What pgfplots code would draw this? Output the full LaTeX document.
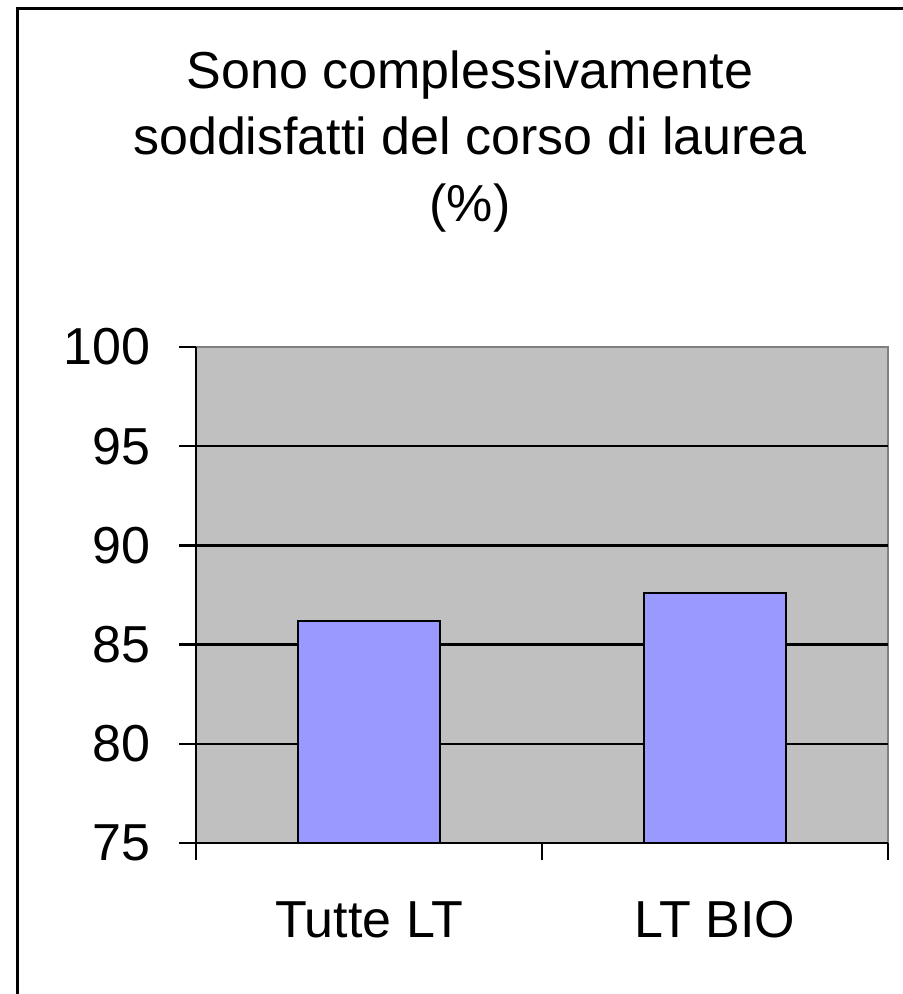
\documentclass[border=0pt]{standalone}
\usepackage{fontspec}
\setmainfont{Liberation Sans}
\usepackage{pgfplots}
\pgfplotsset{compat=1.18}
\definecolor{plotbg}{HTML}{C0C0C0}
\definecolor{barfill}{HTML}{9999FF}
\definecolor{edgegray}{HTML}{808080}
\begin{document}
\begin{tikzpicture}
\useasboundingbox (0pt,0pt) rectangle (451pt,-497pt);
\draw[line width=1.6pt] (8.6pt,-500pt) -- (8.6pt,-4.2pt) -- (455pt,-4.2pt);
\node[anchor=base,font=\fontsize{26pt}{31pt}\selectfont] at (235pt,-44.5pt) {Sono complessivamente};
\node[anchor=base,font=\fontsize{26pt}{31pt}\selectfont] at (235pt,-77.5pt) {soddisfatti del corso di laurea};
\node[anchor=base,font=\fontsize{26pt}{31pt}\selectfont] at (235pt,-111pt) {(\%)};
\begin{axis}[
  at={(98pt,-421.5pt)}, anchor=south west,
  scale only axis, width=346pt, height=248pt,
  xmin=0.5, xmax=2.5, ymin=75, ymax=100,
  axis background/.style={fill=plotbg, draw=edgegray, line width=1pt},
  axis x line*=bottom, axis y line*=left,
  axis line style={-, black, line width=1.2pt},
  ytick={75,80,...,100},
  xtick={0.5,1.5,2.5}, xticklabels={},
  tick align=outside, major tick length=8.5pt,
  tick style={black, line width=1.2pt},
  /pgf/number format/assume math mode=true,
  tick label style={font=\fontsize{26pt}{31pt}\selectfont},
  yticklabel style={anchor=east, inner sep=0pt, xshift=-14pt},
  extra y ticks={80,85,90,95},
  extra y tick labels={},
  extra y tick style={ymajorgrids=true, major tick length=0pt, major grid style={black, line width=1.2pt}},
  extra x ticks={1,2},
  extra x tick labels={Tutte LT, LT BIO},
  extra x tick style={major tick length=0pt, xticklabel style={anchor=base, yshift=-47pt, inner sep=0pt}},
  ybar, bar width=71pt,
]
\addplot[fill=barfill, draw=black, line width=1pt] coordinates {(1,86.2) (2,87.6)};
\end{axis}
\end{tikzpicture}
\end{document}
